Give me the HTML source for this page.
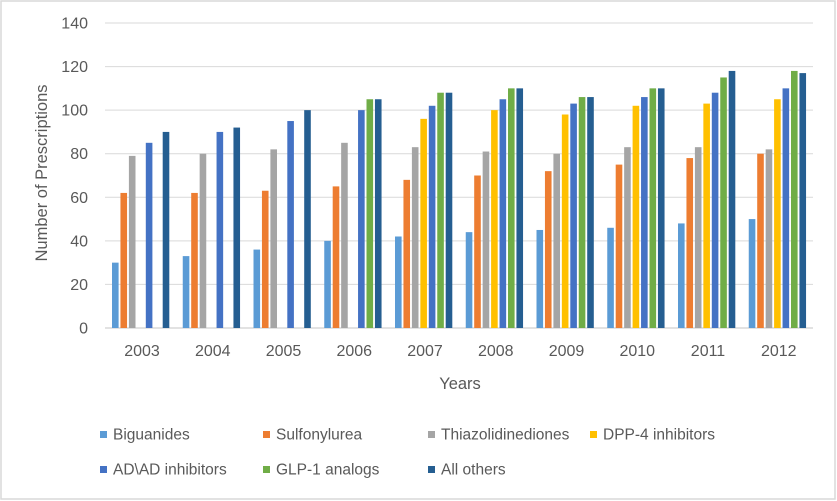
<!DOCTYPE html>
<html><head><meta charset="utf-8"><style>
body{margin:0;background:#fff}
svg{display:block;font-family:"Liberation Sans",sans-serif}
</style></head><body>
<svg id="c" width="837" height="501" xmlns="http://www.w3.org/2000/svg">
<rect x="1" y="1" width="834" height="498" fill="#fff" stroke="#d9d9d9" stroke-width="1.5"/>
<g id="g"></g>
<text x="47" y="173" transform="rotate(-90 47 173)" text-anchor="middle" font-size="16.5" fill="#595959">Number of Prescriptions</text>
<text x="460" y="389" text-anchor="middle" font-size="16.5" fill="#595959">Years</text>
</svg>
<script>
var g=document.getElementById('g'),h='';
for(var v=0;v<=140;v+=20){var y=328-v*2.1786;
h+='<line x1="105" x2="813" y1="'+y+'" y2="'+y+'" stroke="#d9d9d9" stroke-width="'+(v==0?1.5:1)+'"/>';
h+='<text x="88" y="'+(y+5.5)+'" text-anchor="end" font-size="16" fill="#595959">'+v+'</text>';}
var cols=['#5b9bd5','#ed7d31','#a5a5a5','#ffc000','#4472c4','#70ad47','#255e91'];
var d=[[30,33,36,40,42,44,45,46,48,50],[62,62,63,65,68,70,72,75,78,80],[79,80,82,85,83,81,80,83,83,82],
[0,0,0,0,96,100,98,102,103,105],[85,90,95,100,102,105,103,106,108,110],[0,0,0,105,108,110,106,110,115,118],[90,92,100,105,108,110,106,110,118,117]];
for(var i=0;i<10;i++){var x0=112+i*70.75;
for(var k=0;k<7;k++){var v=d[k][i];if(!v)continue;var y=328-v*2.1786;
h+='<rect x="'+(x0+k*8.45)+'" y="'+y+'" width="6.6" height="'+(328-y)+'" fill="'+cols[k]+'"/>';}
h+='<text x="'+(x0+30)+'" y="356" text-anchor="middle" font-size="16" fill="#595959">'+(2003+i)+'</text>';}
var L=[['Biguanides',100,438],['Sulfonylurea',263,438],['Thiazolidinediones',428,438],['DPP-4 inhibitors',590,438],['AD\\AD inhibitors',100,473],['GLP-1 analogs',263,473],['All others',428,473]];
for(var k=0;k<7;k++){var l=L[k];
h+='<rect x="'+l[1]+'" y="'+(l[2]-7)+'" width="7" height="7" fill="'+cols[k]+'"/>';
h+='<text x="'+(l[1]+13)+'" y="'+(l[2]+1.5)+'" font-size="15.5" fill="#595959">'+l[0]+'</text>';}
g.innerHTML=h;
</script>
</body></html>
